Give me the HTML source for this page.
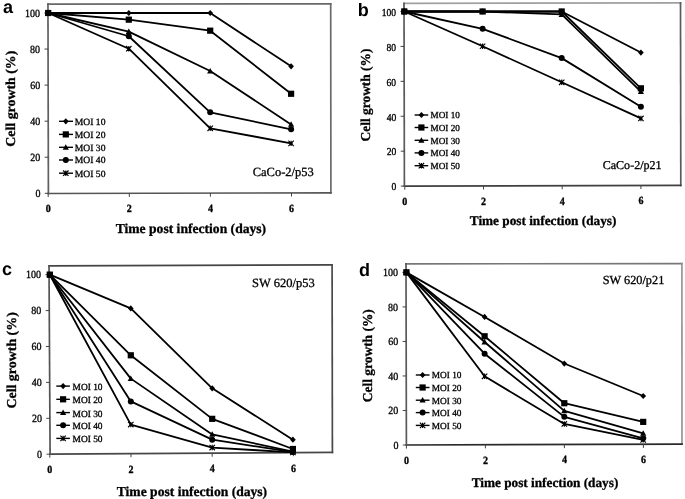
<!DOCTYPE html>
<html><head><meta charset="utf-8"><style>
html,body{margin:0;padding:0;background:#fff;}
body{width:685px;height:499px;overflow:hidden;}
svg{display:block;filter:grayscale(1) blur(0.3px);}
text{font-family:"Liberation Serif",serif;fill:#000;stroke:#000;stroke-width:0.3px;text-rendering:geometricPrecision;}
.yl{font-size:10px;}
.xl{font-size:10px;font-weight:bold;}
.lg{font-size:9.6px;}
.cl{font-size:12.5px;}
.ti{font-size:13.6px;font-weight:bold;}
.pl{font-family:"Liberation Sans",sans-serif;font-size:18px;font-weight:bold;stroke-width:0;}
</style></head><body>
<svg width="685" height="499" viewBox="0 0 685 499">
<rect width="685" height="499" fill="#fff"/>
<path d="M47.95 4.20L330.70 3.80" stroke="#686868" stroke-width="1.7" stroke-linecap="square" fill="none"/>
<path d="M330.70 3.80L330.90 192.80" stroke="#6a6a6a" stroke-width="1.7" stroke-linecap="square" fill="none"/>
<path d="M330.90 192.80L48.40 193.50" stroke="#555" stroke-width="1.7" stroke-linecap="square" fill="none"/>
<path d="M48.40 193.50L47.95 4.20" stroke="#606060" stroke-width="1.7" stroke-linecap="square" fill="none"/>
<path d="M44.80 193.30H48.40" stroke="#444" stroke-width="1"/>
<text transform="translate(40.40 197.05) scale(1 1.1)" text-anchor="end" class="yl" style="font-size:10px">0</text>
<path d="M44.71 157.24H48.31" stroke="#444" stroke-width="1"/>
<text transform="translate(40.31 160.99) scale(1 1.1)" text-anchor="end" class="yl" style="font-size:10px">20</text>
<path d="M44.63 121.18H48.23" stroke="#444" stroke-width="1"/>
<text transform="translate(40.23 124.93) scale(1 1.1)" text-anchor="end" class="yl" style="font-size:10px">40</text>
<path d="M44.54 85.12H48.14" stroke="#444" stroke-width="1"/>
<text transform="translate(40.14 88.87) scale(1 1.1)" text-anchor="end" class="yl" style="font-size:10px">60</text>
<path d="M44.46 49.06H48.06" stroke="#444" stroke-width="1"/>
<text transform="translate(40.06 52.81) scale(1 1.1)" text-anchor="end" class="yl" style="font-size:10px">80</text>
<path d="M44.37 13.00H47.97" stroke="#444" stroke-width="1"/>
<text transform="translate(39.97 16.75) scale(1 1.1)" text-anchor="end" class="yl" style="font-size:10px">100</text>
<path d="M48.20 193.50V197.10" stroke="#444" stroke-width="1"/>
<text transform="translate(48.20 212.40) scale(1 1.1)" text-anchor="middle" class="xl">0</text>
<path d="M129.30 193.30V196.90" stroke="#444" stroke-width="1"/>
<text transform="translate(129.30 212.20) scale(1 1.1)" text-anchor="middle" class="xl">2</text>
<path d="M210.40 193.10V196.70" stroke="#444" stroke-width="1"/>
<text transform="translate(210.40 212.00) scale(1 1.1)" text-anchor="middle" class="xl">4</text>
<path d="M291.50 192.90V196.50" stroke="#444" stroke-width="1"/>
<text transform="translate(291.50 211.80) scale(1 1.1)" text-anchor="middle" class="xl">6</text>
<path d="M48.20 13.00L128.80 13.00L210.20 13.00L291.10 66.37" fill="none" stroke="#000" stroke-width="1.8" stroke-linejoin="round"/>
<path d="M48.20 13.00L128.80 19.67L210.20 30.67L291.10 93.77" fill="none" stroke="#000" stroke-width="1.8" stroke-linejoin="round"/>
<path d="M48.20 13.00L128.80 31.57L210.20 71.06L291.10 124.43" fill="none" stroke="#000" stroke-width="1.8" stroke-linejoin="round"/>
<path d="M48.20 13.00L128.80 36.26L210.20 112.35L291.10 129.29" fill="none" stroke="#000" stroke-width="1.8" stroke-linejoin="round"/>
<path d="M48.20 13.00L128.80 48.70L210.20 128.30L291.10 143.36" fill="none" stroke="#000" stroke-width="1.8" stroke-linejoin="round"/>
<path d="M48.20 9.90L51.05 13.00L48.20 16.10L45.35 13.00Z" fill="#000"/>
<path d="M128.80 9.90L131.65 13.00L128.80 16.10L125.95 13.00Z" fill="#000"/>
<path d="M210.20 9.90L213.05 13.00L210.20 16.10L207.35 13.00Z" fill="#000"/>
<path d="M291.10 63.27L293.95 66.37L291.10 69.47L288.25 66.37Z" fill="#000"/>
<rect x="45.10" y="9.90" width="6.20" height="6.20" fill="#000"/>
<rect x="125.70" y="16.57" width="6.20" height="6.20" fill="#000"/>
<rect x="207.10" y="27.57" width="6.20" height="6.20" fill="#000"/>
<rect x="288.00" y="90.67" width="6.20" height="6.20" fill="#000"/>
<path d="M48.20 9.90L51.30 15.42L45.10 15.42Z" fill="#000"/>
<path d="M128.80 28.47L131.90 33.99L125.70 33.99Z" fill="#000"/>
<path d="M210.20 67.96L213.30 73.47L207.10 73.47Z" fill="#000"/>
<path d="M291.10 121.33L294.20 126.84L288.00 126.84Z" fill="#000"/>
<circle cx="48.20" cy="13.00" r="3.00" fill="#000"/>
<circle cx="128.80" cy="36.26" r="3.00" fill="#000"/>
<circle cx="210.20" cy="112.35" r="3.00" fill="#000"/>
<circle cx="291.10" cy="129.29" r="3.00" fill="#000"/>
<path d="M45.50 10.30L50.90 15.70M50.90 10.30L45.50 15.70M48.20 10.30L48.20 15.70" stroke="#000" stroke-width="1.15" fill="none"/><circle cx="48.20" cy="13.00" r="1.5" fill="#000"/>
<path d="M126.10 46.00L131.50 51.40M131.50 46.00L126.10 51.40M128.80 46.00L128.80 51.40" stroke="#000" stroke-width="1.15" fill="none"/><circle cx="128.80" cy="48.70" r="1.5" fill="#000"/>
<path d="M207.50 125.60L212.90 131.00M212.90 125.60L207.50 131.00M210.20 125.60L210.20 131.00" stroke="#000" stroke-width="1.15" fill="none"/><circle cx="210.20" cy="128.30" r="1.5" fill="#000"/>
<path d="M288.40 140.66L293.80 146.06M293.80 140.66L288.40 146.06M291.10 140.66L291.10 146.06" stroke="#000" stroke-width="1.15" fill="none"/><circle cx="291.10" cy="143.36" r="1.5" fill="#000"/>
<path d="M59 121.3H73.0" stroke="#000" stroke-width="1.4"/>
<path d="M65.80 118.20L68.65 121.30L65.80 124.40L62.95 121.30Z" fill="#000"/>
<text x="74.8" y="124.60" class="lg" style="font-size:9.6px">MOI 10</text>
<path d="M59 134.4H73.0" stroke="#000" stroke-width="1.4"/>
<rect x="62.70" y="131.30" width="6.20" height="6.20" fill="#000"/>
<text x="74.8" y="137.70" class="lg" style="font-size:9.6px">MOI 20</text>
<path d="M59 147.3H73.0" stroke="#000" stroke-width="1.4"/>
<path d="M65.80 144.20L68.90 149.72L62.70 149.72Z" fill="#000"/>
<text x="74.8" y="150.60" class="lg" style="font-size:9.6px">MOI 30</text>
<path d="M59 160H73.0" stroke="#000" stroke-width="1.4"/>
<circle cx="65.80" cy="160.00" r="3.00" fill="#000"/>
<text x="74.8" y="163.30" class="lg" style="font-size:9.6px">MOI 40</text>
<path d="M59 173.2H73.0" stroke="#000" stroke-width="1.4"/>
<path d="M63.10 170.50L68.50 175.90M68.50 170.50L63.10 175.90M65.80 170.50L65.80 175.90" stroke="#000" stroke-width="1.15" fill="none"/><circle cx="65.80" cy="173.20" r="1.5" fill="#000"/>
<text x="74.8" y="176.50" class="lg" style="font-size:9.6px">MOI 50</text>
<text x="252.7" y="176.4" class="cl" style="font-size:12.5px">CaCo-2/p53</text>
<text x="3.0" y="12.6" class="pl">a</text>
<text transform="translate(10.7 98.7) rotate(-90) scale(1.02 1)" text-anchor="middle" y="4.6" class="ti">Cell growth (%)</text>
<text x="190.9" y="232.8" text-anchor="middle" class="ti" style="font-size:13.6px">Time post infection (days)</text>
<path d="M404.00 3.30L680.50 2.80" stroke="#a0a0a0" stroke-width="1.7" stroke-linecap="square" fill="none"/>
<path d="M680.50 2.80L680.80 185.30" stroke="#5a5a5a" stroke-width="1.7" stroke-linecap="square" fill="none"/>
<path d="M680.80 185.30L404.40 186.10" stroke="#404040" stroke-width="1.7" stroke-linecap="square" fill="none"/>
<path d="M404.40 186.10L404.00 3.30" stroke="#5a5a5a" stroke-width="1.7" stroke-linecap="square" fill="none"/>
<path d="M400.80 186.10H404.40" stroke="#444" stroke-width="1"/>
<text transform="translate(396.40 190.35) scale(1 1.1)" text-anchor="end" class="yl" style="font-size:9.6px">0</text>
<path d="M400.72 151.18H404.32" stroke="#444" stroke-width="1"/>
<text transform="translate(396.32 155.43) scale(1 1.1)" text-anchor="end" class="yl" style="font-size:9.6px">20</text>
<path d="M400.65 116.26H404.25" stroke="#444" stroke-width="1"/>
<text transform="translate(396.25 120.51) scale(1 1.1)" text-anchor="end" class="yl" style="font-size:9.6px">40</text>
<path d="M400.57 81.34H404.17" stroke="#444" stroke-width="1"/>
<text transform="translate(396.17 85.59) scale(1 1.1)" text-anchor="end" class="yl" style="font-size:9.6px">60</text>
<path d="M400.49 46.42H404.09" stroke="#444" stroke-width="1"/>
<text transform="translate(396.09 50.67) scale(1 1.1)" text-anchor="end" class="yl" style="font-size:9.6px">80</text>
<path d="M400.42 11.50H404.02" stroke="#444" stroke-width="1"/>
<text transform="translate(396.02 15.75) scale(1 1.1)" text-anchor="end" class="yl" style="font-size:9.6px">100</text>
<path d="M404.80 186.10V189.70" stroke="#444" stroke-width="1"/>
<text transform="translate(404.80 205.00) scale(1 1.1)" text-anchor="middle" class="xl">0</text>
<path d="M483.50 185.87V189.47" stroke="#444" stroke-width="1"/>
<text transform="translate(483.50 204.77) scale(1 1.1)" text-anchor="middle" class="xl">2</text>
<path d="M562.20 185.64V189.24" stroke="#444" stroke-width="1"/>
<text transform="translate(562.20 204.54) scale(1 1.1)" text-anchor="middle" class="xl">4</text>
<path d="M640.90 185.42V189.02" stroke="#444" stroke-width="1"/>
<text transform="translate(640.90 204.32) scale(1 1.1)" text-anchor="middle" class="xl">6</text>
<path d="M404.30 11.50L482.60 11.50L561.70 11.50L640.90 52.53" fill="none" stroke="#000" stroke-width="1.8" stroke-linejoin="round"/>
<path d="M404.30 11.50L482.60 11.50L561.70 11.50L640.90 88.32" fill="none" stroke="#000" stroke-width="1.8" stroke-linejoin="round"/>
<path d="M404.30 11.50L482.60 11.50L561.70 14.47L640.90 91.64" fill="none" stroke="#000" stroke-width="1.8" stroke-linejoin="round"/>
<path d="M404.30 11.50L482.60 28.79L561.70 58.12L640.90 106.83" fill="none" stroke="#000" stroke-width="1.8" stroke-linejoin="round"/>
<path d="M404.30 11.50L482.60 46.25L561.70 82.30L640.90 118.44" fill="none" stroke="#000" stroke-width="1.8" stroke-linejoin="round"/>
<path d="M404.30 8.40L407.15 11.50L404.30 14.60L401.45 11.50Z" fill="#000"/>
<path d="M482.60 8.40L485.45 11.50L482.60 14.60L479.75 11.50Z" fill="#000"/>
<path d="M561.70 8.40L564.55 11.50L561.70 14.60L558.85 11.50Z" fill="#000"/>
<path d="M640.90 49.43L643.75 52.53L640.90 55.63L638.05 52.53Z" fill="#000"/>
<rect x="401.20" y="8.40" width="6.20" height="6.20" fill="#000"/>
<rect x="479.50" y="8.40" width="6.20" height="6.20" fill="#000"/>
<rect x="558.60" y="8.40" width="6.20" height="6.20" fill="#000"/>
<rect x="637.80" y="85.22" width="6.20" height="6.20" fill="#000"/>
<path d="M404.30 8.40L407.40 13.92L401.20 13.92Z" fill="#000"/>
<path d="M482.60 8.40L485.70 13.92L479.50 13.92Z" fill="#000"/>
<path d="M561.70 11.37L564.80 16.89L558.60 16.89Z" fill="#000"/>
<path d="M640.90 88.54L644.00 94.06L637.80 94.06Z" fill="#000"/>
<circle cx="404.30" cy="11.50" r="3.00" fill="#000"/>
<circle cx="482.60" cy="28.79" r="3.00" fill="#000"/>
<circle cx="561.70" cy="58.12" r="3.00" fill="#000"/>
<circle cx="640.90" cy="106.83" r="3.00" fill="#000"/>
<path d="M401.60 8.80L407.00 14.20M407.00 8.80L401.60 14.20M404.30 8.80L404.30 14.20" stroke="#000" stroke-width="1.15" fill="none"/><circle cx="404.30" cy="11.50" r="1.5" fill="#000"/>
<path d="M479.90 43.55L485.30 48.95M485.30 43.55L479.90 48.95M482.60 43.55L482.60 48.95" stroke="#000" stroke-width="1.15" fill="none"/><circle cx="482.60" cy="46.25" r="1.5" fill="#000"/>
<path d="M559.00 79.60L564.40 85.00M564.40 79.60L559.00 85.00M561.70 79.60L561.70 85.00" stroke="#000" stroke-width="1.15" fill="none"/><circle cx="561.70" cy="82.30" r="1.5" fill="#000"/>
<path d="M638.20 115.74L643.60 121.14M643.60 115.74L638.20 121.14M640.90 115.74L640.90 121.14" stroke="#000" stroke-width="1.15" fill="none"/><circle cx="640.90" cy="118.44" r="1.5" fill="#000"/>
<path d="M414.6 115H428.2" stroke="#000" stroke-width="1.4"/>
<path d="M421.40 111.90L424.25 115.00L421.40 118.10L418.55 115.00Z" fill="#000"/>
<text x="430.5" y="118.30" class="lg" style="font-size:9.2px">MOI 10</text>
<path d="M414.6 127.5H428.2" stroke="#000" stroke-width="1.4"/>
<rect x="418.30" y="124.40" width="6.20" height="6.20" fill="#000"/>
<text x="430.5" y="130.80" class="lg" style="font-size:9.2px">MOI 20</text>
<path d="M414.6 140.3H428.2" stroke="#000" stroke-width="1.4"/>
<path d="M421.40 137.20L424.50 142.72L418.30 142.72Z" fill="#000"/>
<text x="430.5" y="143.60" class="lg" style="font-size:9.2px">MOI 30</text>
<path d="M414.6 152.9H428.2" stroke="#000" stroke-width="1.4"/>
<circle cx="421.40" cy="152.90" r="3.00" fill="#000"/>
<text x="430.5" y="156.20" class="lg" style="font-size:9.2px">MOI 40</text>
<path d="M414.6 165.7H428.2" stroke="#000" stroke-width="1.4"/>
<path d="M418.70 163.00L424.10 168.40M424.10 163.00L418.70 168.40M421.40 163.00L421.40 168.40" stroke="#000" stroke-width="1.15" fill="none"/><circle cx="421.40" cy="165.70" r="1.5" fill="#000"/>
<text x="430.5" y="169.00" class="lg" style="font-size:9.2px">MOI 50</text>
<text x="602.7" y="168.6" class="cl" style="font-size:12.05px">CaCo-2/p21</text>
<text x="357.7" y="15.8" class="pl">b</text>
<text transform="translate(365.3 95.0) rotate(-90) scale(0.986 1)" text-anchor="middle" y="4.6" class="ti">Cell growth (%)</text>
<text x="543.1" y="225.3" text-anchor="middle" class="ti" style="font-size:13.25px">Time post infection (days)</text>
<path d="M49.00 265.80L332.10 264.80" stroke="#454545" stroke-width="1.7" stroke-linecap="square" fill="none"/>
<path d="M332.10 264.80L332.40 452.40" stroke="#4a4a4a" stroke-width="1.7" stroke-linecap="square" fill="none"/>
<path d="M332.40 452.40L50.10 454.10" stroke="#474747" stroke-width="1.7" stroke-linecap="square" fill="none"/>
<path d="M50.10 454.10L49.00 265.80" stroke="#555" stroke-width="1.7" stroke-linecap="square" fill="none"/>
<path d="M46.50 454.20H50.10" stroke="#444" stroke-width="1"/>
<text transform="translate(42.10 457.95) scale(1 1.1)" text-anchor="end" class="yl" style="font-size:10px">0</text>
<path d="M46.29 418.30H49.89" stroke="#444" stroke-width="1"/>
<text transform="translate(41.89 422.05) scale(1 1.1)" text-anchor="end" class="yl" style="font-size:10px">20</text>
<path d="M46.08 382.40H49.68" stroke="#444" stroke-width="1"/>
<text transform="translate(41.68 386.15) scale(1 1.1)" text-anchor="end" class="yl" style="font-size:10px">40</text>
<path d="M45.87 346.50H49.47" stroke="#444" stroke-width="1"/>
<text transform="translate(41.47 350.25) scale(1 1.1)" text-anchor="end" class="yl" style="font-size:10px">60</text>
<path d="M45.66 310.60H49.26" stroke="#444" stroke-width="1"/>
<text transform="translate(41.26 314.35) scale(1 1.1)" text-anchor="end" class="yl" style="font-size:10px">80</text>
<path d="M45.45 274.70H49.05" stroke="#444" stroke-width="1"/>
<text transform="translate(41.05 278.45) scale(1 1.1)" text-anchor="end" class="yl" style="font-size:10px">100</text>
<path d="M49.80 454.10V457.70" stroke="#444" stroke-width="1"/>
<text transform="translate(49.80 473.00) scale(1 1.1)" text-anchor="middle" class="xl">0</text>
<path d="M131.00 453.61V457.21" stroke="#444" stroke-width="1"/>
<text transform="translate(131.00 472.51) scale(1 1.1)" text-anchor="middle" class="xl">2</text>
<path d="M212.20 453.12V456.72" stroke="#444" stroke-width="1"/>
<text transform="translate(212.20 472.02) scale(1 1.1)" text-anchor="middle" class="xl">4</text>
<path d="M293.40 452.63V456.23" stroke="#444" stroke-width="1"/>
<text transform="translate(293.40 471.53) scale(1 1.1)" text-anchor="middle" class="xl">6</text>
<path d="M49.80 274.70L130.80 308.45L212.20 388.32L292.90 439.66" fill="none" stroke="#000" stroke-width="1.8" stroke-linejoin="round"/>
<path d="M49.80 274.70L130.80 355.30L212.20 418.84L292.90 448.99" fill="none" stroke="#000" stroke-width="1.8" stroke-linejoin="round"/>
<path d="M49.80 274.70L130.80 378.63L212.20 434.45L292.90 451.51" fill="none" stroke="#000" stroke-width="1.8" stroke-linejoin="round"/>
<path d="M49.80 274.70L130.80 401.43L212.20 439.66L292.90 452.05" fill="none" stroke="#000" stroke-width="1.8" stroke-linejoin="round"/>
<path d="M49.80 274.70L130.80 424.58L212.20 447.56L292.90 452.40" fill="none" stroke="#000" stroke-width="1.8" stroke-linejoin="round"/>
<path d="M49.80 271.60L52.65 274.70L49.80 277.80L46.95 274.70Z" fill="#000"/>
<path d="M130.80 305.35L133.65 308.45L130.80 311.55L127.95 308.45Z" fill="#000"/>
<path d="M212.20 385.22L215.05 388.32L212.20 391.42L209.35 388.32Z" fill="#000"/>
<path d="M292.90 436.56L295.75 439.66L292.90 442.76L290.05 439.66Z" fill="#000"/>
<rect x="46.70" y="271.60" width="6.20" height="6.20" fill="#000"/>
<rect x="127.70" y="352.20" width="6.20" height="6.20" fill="#000"/>
<rect x="209.10" y="415.74" width="6.20" height="6.20" fill="#000"/>
<rect x="289.80" y="445.89" width="6.20" height="6.20" fill="#000"/>
<path d="M49.80 271.60L52.90 277.12L46.70 277.12Z" fill="#000"/>
<path d="M130.80 375.53L133.90 381.05L127.70 381.05Z" fill="#000"/>
<path d="M212.20 431.35L215.30 436.87L209.10 436.87Z" fill="#000"/>
<path d="M292.90 448.41L296.00 453.93L289.80 453.93Z" fill="#000"/>
<circle cx="49.80" cy="274.70" r="3.00" fill="#000"/>
<circle cx="130.80" cy="401.43" r="3.00" fill="#000"/>
<circle cx="212.20" cy="439.66" r="3.00" fill="#000"/>
<circle cx="292.90" cy="452.05" r="3.00" fill="#000"/>
<path d="M47.10 272.00L52.50 277.40M52.50 272.00L47.10 277.40M49.80 272.00L49.80 277.40" stroke="#000" stroke-width="1.15" fill="none"/><circle cx="49.80" cy="274.70" r="1.5" fill="#000"/>
<path d="M128.10 421.88L133.50 427.28M133.50 421.88L128.10 427.28M130.80 421.88L130.80 427.28" stroke="#000" stroke-width="1.15" fill="none"/><circle cx="130.80" cy="424.58" r="1.5" fill="#000"/>
<path d="M209.50 444.86L214.90 450.26M214.90 444.86L209.50 450.26M212.20 444.86L212.20 450.26" stroke="#000" stroke-width="1.15" fill="none"/><circle cx="212.20" cy="447.56" r="1.5" fill="#000"/>
<path d="M290.20 449.70L295.60 455.10M295.60 449.70L290.20 455.10M292.90 449.70L292.90 455.10" stroke="#000" stroke-width="1.15" fill="none"/><circle cx="292.90" cy="452.40" r="1.5" fill="#000"/>
<path d="M56.3 386.1H69.9" stroke="#000" stroke-width="1.4"/>
<path d="M63.10 383.00L65.95 386.10L63.10 389.20L60.25 386.10Z" fill="#000"/>
<text x="72.6" y="390.10" class="lg" style="font-size:9.4px">MOI 10</text>
<path d="M56.3 399.3H69.9" stroke="#000" stroke-width="1.4"/>
<rect x="60.00" y="396.20" width="6.20" height="6.20" fill="#000"/>
<text x="72.6" y="403.30" class="lg" style="font-size:9.4px">MOI 20</text>
<path d="M56.3 412.6H69.9" stroke="#000" stroke-width="1.4"/>
<path d="M63.10 409.50L66.20 415.02L60.00 415.02Z" fill="#000"/>
<text x="72.6" y="416.60" class="lg" style="font-size:9.4px">MOI 30</text>
<path d="M56.3 425.3H69.9" stroke="#000" stroke-width="1.4"/>
<circle cx="63.10" cy="425.30" r="3.00" fill="#000"/>
<text x="72.6" y="429.30" class="lg" style="font-size:9.4px">MOI 40</text>
<path d="M56.3 438.4H69.9" stroke="#000" stroke-width="1.4"/>
<path d="M60.40 435.70L65.80 441.10M65.80 435.70L60.40 441.10M63.10 435.70L63.10 441.10" stroke="#000" stroke-width="1.15" fill="none"/><circle cx="63.10" cy="438.40" r="1.5" fill="#000"/>
<text x="72.6" y="442.40" class="lg" style="font-size:9.4px">MOI 50</text>
<text x="252.1" y="286.7" class="cl" style="font-size:12.5px">SW 620/p53</text>
<text x="2.0" y="274.7" class="pl">c</text>
<text transform="translate(11.7 360.4) rotate(-90) scale(1.024 1)" text-anchor="middle" y="4.6" class="ti">Cell growth (%)</text>
<text x="191.95" y="496.0" text-anchor="middle" class="ti" style="font-size:13.6px">Time post infection (days)</text>
<path d="M406.00 263.80L681.90 263.70" stroke="#777" stroke-width="1.7" stroke-linecap="square" fill="none"/>
<path d="M681.90 263.70L682.00 444.20" stroke="#959595" stroke-width="1.7" stroke-linecap="square" fill="none"/>
<path d="M682.00 444.20L406.40 445.00" stroke="#2a2a2a" stroke-width="1.7" stroke-linecap="square" fill="none"/>
<path d="M406.40 445.00L406.00 263.80" stroke="#5a5a5a" stroke-width="1.7" stroke-linecap="square" fill="none"/>
<path d="M402.80 445.00H406.40" stroke="#444" stroke-width="1"/>
<text transform="translate(398.40 448.75) scale(1 1.1)" text-anchor="end" class="yl" style="font-size:10px">0</text>
<path d="M402.72 410.48H406.32" stroke="#444" stroke-width="1"/>
<text transform="translate(398.32 414.23) scale(1 1.1)" text-anchor="end" class="yl" style="font-size:10px">20</text>
<path d="M402.65 375.96H406.25" stroke="#444" stroke-width="1"/>
<text transform="translate(398.25 379.71) scale(1 1.1)" text-anchor="end" class="yl" style="font-size:10px">40</text>
<path d="M402.57 341.44H406.17" stroke="#444" stroke-width="1"/>
<text transform="translate(398.17 345.19) scale(1 1.1)" text-anchor="end" class="yl" style="font-size:10px">60</text>
<path d="M402.50 306.92H406.10" stroke="#444" stroke-width="1"/>
<text transform="translate(398.10 310.67) scale(1 1.1)" text-anchor="end" class="yl" style="font-size:10px">80</text>
<path d="M402.42 272.40H406.02" stroke="#444" stroke-width="1"/>
<text transform="translate(398.02 276.15) scale(1 1.1)" text-anchor="end" class="yl" style="font-size:10px">100</text>
<path d="M406.40 445.00V448.60" stroke="#444" stroke-width="1"/>
<text transform="translate(406.40 463.90) scale(1 1.1)" text-anchor="middle" class="xl">0</text>
<path d="M485.40 444.77V448.37" stroke="#444" stroke-width="1"/>
<text transform="translate(485.40 463.67) scale(1 1.1)" text-anchor="middle" class="xl">2</text>
<path d="M564.40 444.54V448.14" stroke="#444" stroke-width="1"/>
<text transform="translate(564.40 463.44) scale(1 1.1)" text-anchor="middle" class="xl">4</text>
<path d="M643.40 444.31V447.91" stroke="#444" stroke-width="1"/>
<text transform="translate(643.40 463.21) scale(1 1.1)" text-anchor="middle" class="xl">6</text>
<path d="M406.40 272.40L484.60 316.93L564.30 363.53L643.20 395.98" fill="none" stroke="#000" stroke-width="1.8" stroke-linejoin="round"/>
<path d="M406.40 272.40L484.60 336.26L564.30 403.23L643.20 421.87" fill="none" stroke="#000" stroke-width="1.8" stroke-linejoin="round"/>
<path d="M406.40 272.40L484.60 341.96L564.30 410.83L643.20 433.26" fill="none" stroke="#000" stroke-width="1.8" stroke-linejoin="round"/>
<path d="M406.40 272.40L484.60 353.69L564.30 416.87L643.20 438.27" fill="none" stroke="#000" stroke-width="1.8" stroke-linejoin="round"/>
<path d="M406.40 272.40L484.60 376.31L564.30 423.94L643.20 439.91" fill="none" stroke="#000" stroke-width="1.8" stroke-linejoin="round"/>
<path d="M406.40 269.30L409.25 272.40L406.40 275.50L403.55 272.40Z" fill="#000"/>
<path d="M484.60 313.83L487.45 316.93L484.60 320.03L481.75 316.93Z" fill="#000"/>
<path d="M564.30 360.43L567.15 363.53L564.30 366.63L561.45 363.53Z" fill="#000"/>
<path d="M643.20 392.88L646.05 395.98L643.20 399.08L640.35 395.98Z" fill="#000"/>
<rect x="403.30" y="269.30" width="6.20" height="6.20" fill="#000"/>
<rect x="481.50" y="333.16" width="6.20" height="6.20" fill="#000"/>
<rect x="561.20" y="400.13" width="6.20" height="6.20" fill="#000"/>
<rect x="640.10" y="418.77" width="6.20" height="6.20" fill="#000"/>
<path d="M406.40 269.30L409.50 274.82L403.30 274.82Z" fill="#000"/>
<path d="M484.60 338.86L487.70 344.38L481.50 344.38Z" fill="#000"/>
<path d="M564.30 407.73L567.40 413.24L561.20 413.24Z" fill="#000"/>
<path d="M643.20 430.16L646.30 435.68L640.10 435.68Z" fill="#000"/>
<circle cx="406.40" cy="272.40" r="3.00" fill="#000"/>
<circle cx="484.60" cy="353.69" r="3.00" fill="#000"/>
<circle cx="564.30" cy="416.87" r="3.00" fill="#000"/>
<circle cx="643.20" cy="438.27" r="3.00" fill="#000"/>
<path d="M403.70 269.70L409.10 275.10M409.10 269.70L403.70 275.10M406.40 269.70L406.40 275.10" stroke="#000" stroke-width="1.15" fill="none"/><circle cx="406.40" cy="272.40" r="1.5" fill="#000"/>
<path d="M481.90 373.61L487.30 379.01M487.30 373.61L481.90 379.01M484.60 373.61L484.60 379.01" stroke="#000" stroke-width="1.15" fill="none"/><circle cx="484.60" cy="376.31" r="1.5" fill="#000"/>
<path d="M561.60 421.24L567.00 426.64M567.00 421.24L561.60 426.64M564.30 421.24L564.30 426.64" stroke="#000" stroke-width="1.15" fill="none"/><circle cx="564.30" cy="423.94" r="1.5" fill="#000"/>
<path d="M640.50 437.21L645.90 442.61M645.90 437.21L640.50 442.61M643.20 437.21L643.20 442.61" stroke="#000" stroke-width="1.15" fill="none"/><circle cx="643.20" cy="439.91" r="1.5" fill="#000"/>
<path d="M415.8 375H429.5" stroke="#000" stroke-width="1.4"/>
<path d="M422.60 371.90L425.45 375.00L422.60 378.10L419.75 375.00Z" fill="#000"/>
<text x="431.8" y="378.30" class="lg" style="font-size:9.3px">MOI 10</text>
<path d="M415.8 387.5H429.5" stroke="#000" stroke-width="1.4"/>
<rect x="419.50" y="384.40" width="6.20" height="6.20" fill="#000"/>
<text x="431.8" y="390.80" class="lg" style="font-size:9.3px">MOI 20</text>
<path d="M415.8 400.2H429.5" stroke="#000" stroke-width="1.4"/>
<path d="M422.60 397.10L425.70 402.62L419.50 402.62Z" fill="#000"/>
<text x="431.8" y="403.50" class="lg" style="font-size:9.3px">MOI 30</text>
<path d="M415.8 412.6H429.5" stroke="#000" stroke-width="1.4"/>
<circle cx="422.60" cy="412.60" r="3.00" fill="#000"/>
<text x="431.8" y="415.90" class="lg" style="font-size:9.3px">MOI 40</text>
<path d="M415.8 425.4H429.5" stroke="#000" stroke-width="1.4"/>
<path d="M419.90 422.70L425.30 428.10M425.30 422.70L419.90 428.10M422.60 422.70L422.60 428.10" stroke="#000" stroke-width="1.15" fill="none"/><circle cx="422.60" cy="425.40" r="1.5" fill="#000"/>
<text x="431.8" y="428.70" class="lg" style="font-size:9.3px">MOI 50</text>
<text x="602.7" y="284.1" class="cl" style="font-size:12.3px">SW 620/p21</text>
<text x="359.0" y="275.7" class="pl">d</text>
<text transform="translate(367.0 355.7) rotate(-90) scale(0.988 1)" text-anchor="middle" y="4.6" class="ti">Cell growth (%)</text>
<text x="545.0" y="486.9" text-anchor="middle" class="ti" style="font-size:13.25px">Time post infection (days)</text>
</svg>
</body></html>
